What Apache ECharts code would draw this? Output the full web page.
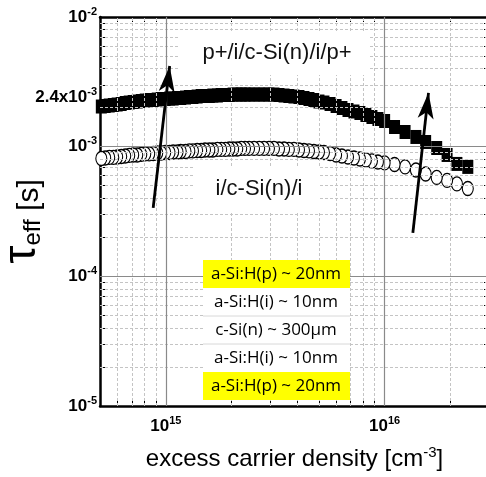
<!DOCTYPE html>
<html><head><meta charset="utf-8">
<script src="https://cdn.jsdelivr.net/npm/echarts@6/dist/echarts.min.js"></script>
<style>html,body{margin:0;padding:0;background:#fff}#c{width:486px;height:477px}</style>
</head><body><div id="c"></div>
<script>
// excess carrier density [cm^-3] (data listed from high to low injection, as measured)
const excessCarrierDensity = [2.40e16,2.14e16,1.93e16,1.73e16,1.54e16,1.39e16,1.24e16,1.11e16,1.00e16,9.32e15,8.75e15,8.21e15,7.71e15,7.24e15,6.80e15,6.38e15,6.00e15,5.63e15,5.28e15,5.01e15,4.75e15,4.51e15,4.28e15,4.06e15,3.85e15,3.65e15,3.47e15,3.29e15,3.12e15,2.96e15,2.81e15,2.67e15,2.53e15,2.40e15,2.30e15,2.21e15,2.12e15,2.03e15,1.95e15,1.87e15,1.79e15,1.72e15,1.64e15,1.58e15,1.51e15,1.45e15,1.39e15,1.33e15,1.28e15,1.23e15,1.17e15,1.13e15,1.08e15,1.04e15,9.93e14,9.52e14,9.13e14,8.75e14,8.39e14,8.05e14,7.72e14,7.40e14,7.09e14,6.80e14,6.52e14,6.25e14,5.99e14,5.75e14,5.51e14,5.28e14,5.07e14];
// tau_eff [s] of p+/i/c-Si(n)/i/p+ (filled squares)
const tauFullStack = [6.98e-4,7.36e-4,8.63e-4,9.77e-4,1.087e-3,1.188e-3,1.298e-3,1.418e-3,1.578e-3,1.635e-3,1.694e-3,1.755e-3,1.818e-3,1.867e-3,1.918e-3,1.987e-3,2.059e-3,2.133e-3,2.190e-3,2.229e-3,2.290e-3,2.331e-3,2.372e-3,2.415e-3,2.436e-3,2.458e-3,2.480e-3,2.502e-3,2.524e-3,2.524e-3,2.524e-3,2.524e-3,2.524e-3,2.524e-3,2.524e-3,2.524e-3,2.524e-3,2.524e-3,2.502e-3,2.502e-3,2.502e-3,2.480e-3,2.480e-3,2.458e-3,2.458e-3,2.458e-3,2.436e-3,2.415e-3,2.415e-3,2.393e-3,2.372e-3,2.372e-3,2.351e-3,2.351e-3,2.331e-3,2.331e-3,2.310e-3,2.290e-3,2.290e-3,2.269e-3,2.249e-3,2.229e-3,2.210e-3,2.190e-3,2.171e-3,2.133e-3,2.114e-3,2.096e-3,2.077e-3,2.059e-3,2.040e-3];
// tau_eff [s] of i/c-Si(n)/i (open circles)
const tauIntrinsic = [4.76e-4,5.16e-4,5.49e-4,5.79e-4,6.16e-4,6.61e-4,6.98e-4,7.29e-4,7.49e-4,7.62e-4,7.76e-4,7.90e-4,8.04e-4,8.18e-4,8.33e-4,8.48e-4,8.63e-4,8.86e-4,9.02e-4,9.10e-4,9.18e-4,9.27e-4,9.35e-4,9.43e-4,9.52e-4,9.52e-4,9.60e-4,9.60e-4,9.69e-4,9.69e-4,9.69e-4,9.69e-4,9.69e-4,9.69e-4,9.69e-4,9.69e-4,9.60e-4,9.60e-4,9.60e-4,9.52e-4,9.52e-4,9.52e-4,9.43e-4,9.43e-4,9.43e-4,9.35e-4,9.35e-4,9.27e-4,9.27e-4,9.18e-4,9.18e-4,9.10e-4,9.10e-4,9.02e-4,9.02e-4,8.94e-4,8.94e-4,8.86e-4,8.79e-4,8.79e-4,8.71e-4,8.63e-4,8.63e-4,8.56e-4,8.48e-4,8.40e-4,8.33e-4,8.26e-4,8.26e-4,8.18e-4,8.11e-4];

const xLabelValues = [1e15, 1e16];
const yLabelValues = [1e-5, 1e-4, 1e-3, 2.4e-3, 1e-2];
const xTickValues = [6e14,7e14,8e14,9e14,1e15,2e15,3e15,4e15,5e15,6e15,7e15,8e15,9e15,1e16,2e16];
const yTickValues = [2e-5,3e-5,4e-5,5e-5,6e-5,7e-5,8e-5,9e-5,1e-4,2e-4,3e-4,4e-4,5e-4,6e-4,7e-4,8e-4,9e-4,1e-3,2e-3,3e-3,4e-3,5e-3,6e-3,7e-3,8e-3,9e-3];
const xMajorGrid = [1e15, 1e16];
const yMajorGrid = [1e-4, 1e-3];
const xMinorGrid = [6e14,7e14,8e14,9e14,2e15,3e15,4e15,5e15,6e15,7e15,8e15,9e15,2e16];
const yMinorGrid = [2e-5,3e-5,4e-5,5e-5,6e-5,7e-5,8e-5,9e-5,2e-4,3e-4,4e-4,5e-4,6e-4,7e-4,8e-4,9e-4,2e-3,3e-3,4e-3,5e-3,6e-3,7e-3,8e-3,9e-3];

const sampleLabels = ['p+/i/c-Si(n)/i/p+', 'i/c-Si(n)/i'];
const layerStack = ['a-Si:H(p) ~ 20nm', 'a-Si:H(i) ~ 10nm', 'c-Si(n) ~ 300µm', 'a-Si:H(i) ~ 10nm', 'a-Si:H(p) ~ 20nm'];
const layerDoped = [true, false, false, false, true];
// arrows: [start, end] in data coordinates
const arrowStarts = [[8.75e14, 3.37e-4], [1.346e16, 2.16e-4]];
const arrowEnds = [[1.041e15, 4.19e-3], [1.587e16, 2.60e-3]];

const FONT = '"Liberation Sans", Arial, sans-serif';
function powLabel(v) {
  const e = Math.round(Math.log10(v));
  const m = v / Math.pow(10, e);
  if (Math.abs(m - 1) < 1e-6) return '{b|10}{s|' + e + '}';
  return '{b|' + m.toFixed(1) + 'x10}{s|' + e + '}';
}
const labelRich = {
  b: {fontSize: 17, fontWeight: 'bold', fontFamily: FONT, color: '#000', lineHeight: 22},
  s: {fontSize: 11, fontWeight: 'bold', fontFamily: FONT, color: '#000', verticalAlign: 'top', lineHeight: 12}
};
const axisLineStyle = {color: '#000', width: 2.5};
const tickStyle = {color: '#000', width: 1};

function xAxisDef(pos, withLabels) {
  return {
    type: 'log', logBase: 10, min: 5e14, max: 3e16, position: pos,
    axisLine: {show: true, onZero: false, lineStyle: axisLineStyle},
    axisTick: {show: true, inside: true, length: 5, customValues: xTickValues, lineStyle: tickStyle},
    axisLabel: withLabels ? {show: true, customValues: xLabelValues, formatter: powLabel, margin: 9, rich: labelRich} : {show: false},
    splitLine: {show: false}, minorTick: {show: false}, minorSplitLine: {show: false},
    name: withLabels ? '{n|excess carrier density [cm}{s|-3}{n|]}' : '',
    nameLocation: 'middle', nameGap: 39, nameMoveOverlap: false,
    nameTextStyle: {rich: {
      n: {fontSize: 24, fontFamily: FONT, color: '#000', lineHeight: 28},
      s: {fontSize: 15, fontFamily: FONT, color: '#000', verticalAlign: 'top', lineHeight: 14}
    }}
  };
}
function yAxisDef(pos, withLabels) {
  return {
    type: 'log', logBase: 10, min: 1e-5, max: 1e-2, position: pos,
    axisLine: {show: true, onZero: false, lineStyle: axisLineStyle},
    axisTick: {show: true, inside: true, length: 5, customValues: yTickValues, lineStyle: tickStyle},
    axisLabel: withLabels ? {show: true, customValues: yLabelValues, formatter: powLabel, margin: 3, rich: labelRich} : {show: false},
    splitLine: {show: false}, minorTick: {show: false}, minorSplitLine: {show: false},
    name: withLabels ? '{t|τ}{e|eff}{n| [s]}' : '',
    nameLocation: 'middle', nameGap: 55, nameMoveOverlap: false,
    nameTextStyle: {rich: {
      t: {fontSize: 46, fontFamily: FONT, color: '#000', lineHeight: 46, verticalAlign: 'bottom'},
      e: {fontSize: 24, fontFamily: FONT, color: '#000', lineHeight: 24, verticalAlign: 'bottom'},
      n: {fontSize: 30, fontFamily: FONT, color: '#000', lineHeight: 30, verticalAlign: 'bottom', padding: [0, 20, 0, 0]}
    }}
  };
}

const minorStyle = {color: '#c4c4c4', width: 1, type: [3, 2]};
const majorStyle = {color: '#8a8a8a', width: 1.2, type: 'solid'};
const gridLines = []
  .concat(xMinorGrid.map(v => ({xAxis: v, lineStyle: minorStyle})))
  .concat(yMinorGrid.map(v => ({yAxis: v, lineStyle: minorStyle})))
  .concat(xMajorGrid.map(v => ({xAxis: v, lineStyle: majorStyle})))
  .concat(yMajorGrid.map(v => ({yAxis: v, lineStyle: majorStyle})));

const arrowLines = arrowStarts.map((s, i) => [
  {coord: s, symbol: 'none'},
  {coord: arrowEnds[i], symbol: 'arrow', symbolSize: [12, 26]}
]);

const squares = excessCarrierDensity.map((x, i) => [x, tauFullStack[i]]);
const circles = excessCarrierDensity.map((x, i) => [x, tauIntrinsic[i]]);

// annotation boxes
const graphics = [];
graphics.push({type: 'rect', shape: {x: 180, y: 31, width: 190, height: 44}, style: {fill: '#fff'}, z: 10});
graphics.push({type: 'text', x: 277, y: 53, style: {text: sampleLabels[0], fontSize: 22, fontFamily: FONT, fill: '#111', align: 'center', verticalAlign: 'middle'}, z: 11});
graphics.push({type: 'rect', shape: {x: 195, y: 166, width: 125, height: 46}, style: {fill: '#fff'}, z: 10});
graphics.push({type: 'text', x: 259, y: 189, style: {text: sampleLabels[1], fontSize: 22, fontFamily: FONT, fill: '#111', align: 'center', verticalAlign: 'middle'}, z: 11});
layerStack.forEach((t, i) => {
  const y0 = 260 + i * 28;
  graphics.push({type: 'rect', shape: {x: 203, y: y0, width: 147, height: 28}, style: {fill: layerDoped[i] ? '#ffff00' : '#fff'}, z: 10});
  graphics.push({type: 'text', x: 276, y: y0 + 14, style: {text: t, fontSize: 17, fontFamily: '"Open Sans", sans-serif', fill: '#000', align: 'center', verticalAlign: 'middle'}, z: 12});
  if (i >= 2 && i <= 3) {
    graphics.push({type: 'line', shape: {x1: 203, y1: y0, x2: 350, y2: y0}, style: {stroke: '#d8d8d8', lineWidth: 1}, z: 11});
  }
});

const chart = echarts.init(document.getElementById('c'), null, {renderer: 'canvas'});
chart.setOption({
  animation: false,
  backgroundColor: '#fff',
  grid: {left: 100, right: -3, top: 17, bottom: 71, containLabel: false, outerBoundsMode: 'none'},
  xAxis: [xAxisDef('bottom', true), xAxisDef('top', false)],
  yAxis: [yAxisDef('left', true), yAxisDef('right', false)],
  series: [
    {type: 'scatter', name: 'grid', data: [], z: 1, silent: true,
     markLine: {silent: true, animation: false, precision: 12, symbol: ['none', 'none'], label: {show: false}, emphasis: {disabled: true}, data: gridLines}},
    {type: 'scatter', name: sampleLabels[1], data: circles, symbol: 'circle', symbolSize: [11, 14], z: 3, silent: true,
     itemStyle: {color: '#fff', borderColor: '#000', borderWidth: 1.2, opacity: 1}},
    {type: 'scatter', name: sampleLabels[0], data: squares, symbol: 'rect', symbolSize: [11, 14], z: 3, silent: true,
     itemStyle: {color: '#000', opacity: 1}},
    {type: 'scatter', name: 'arrows', data: [], z: 4, silent: true,
     markLine: {silent: true, animation: false, label: {show: false}, emphasis: {disabled: true},
       lineStyle: {color: '#000', width: 2.8, type: 'solid'}, itemStyle: {color: '#000'}, data: arrowLines}}
  ],
  graphic: graphics
});
</script></body></html>
